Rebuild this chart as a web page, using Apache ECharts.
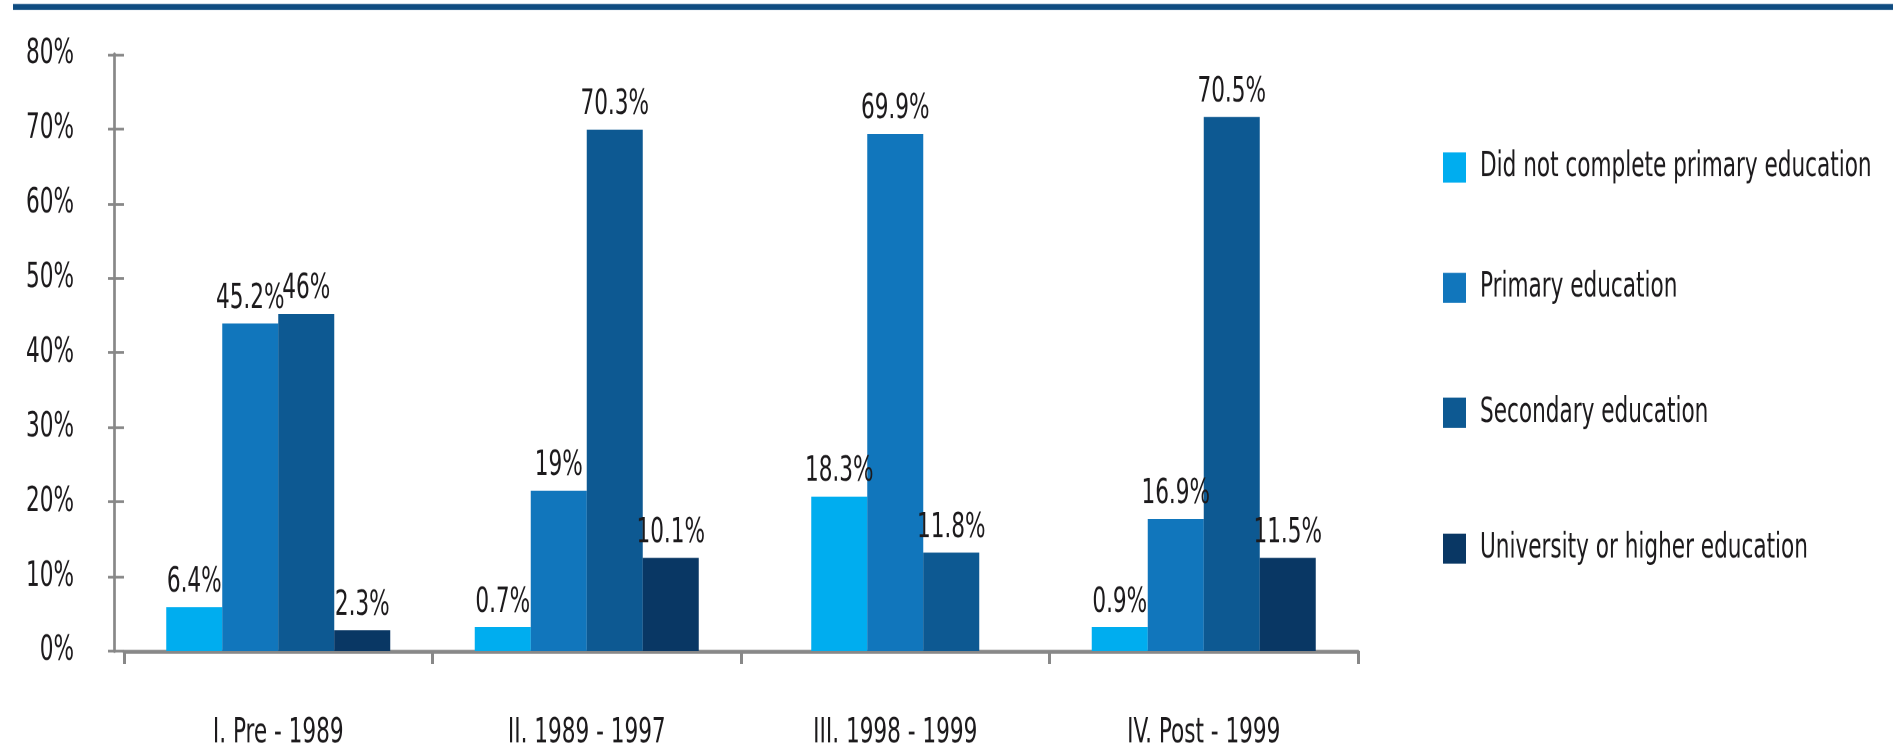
<!DOCTYPE html>
<html>
<head>
<meta charset="utf-8">
<script src="https://cdn.jsdelivr.net/npm/echarts@6/dist/echarts.min.js"></script>
<style>
  html, body { margin: 0; padding: 0; background: #ffffff; overflow: hidden; width: 1893px; height: 750px; }
  #chart { width: 1893px; height: 518px; transform: scaleY(1.45); transform-origin: 0 0; }
</style>
</head>
<body>
<div id="chart"></div>
<script>
// ---- data ----
const categories = ['I. Pre - 1989', 'II. 1989 - 1997', 'III. 1998 - 1999', 'IV. Post - 1999'];
const seriesNames = ['Did not complete primary education', 'Primary education', 'Secondary education', 'University or higher education'];
// bar heights as drawn in the picture (%)
const didNotComplete = [5.9, 3.2, 20.7, 3.2];
const primaryEdu = [43.9, 21.5, 69.3, 17.7];
const secondaryEdu = [45.2, 69.9, 13.2, 71.6];
const university = [2.8, 12.5, null, 12.5];
// value labels printed above the bars
const didNotCompleteLabels = ['6.4%', '0.7%', '18.3%', '0.9%'];
const primaryEduLabels = ['45.2%', '19%', '69.9%', '16.9%'];
const secondaryEduLabels = ['46%', '70.3%', '11.8%', '70.5%'];
const universityLabels = ['2.3%', '10.1%', '', '11.5%'];
const yTicks = [0, 10, 20, 30, 40, 50, 60, 70, 80];

// ---- styling ----
const FONT = "'DejaVu Sans Condensed', 'Liberation Sans Narrow', 'Arial Narrow', sans-serif";
const FS = 24;
const TEXT = '#1c1a1c';
const AXIS = '#888888';
const colors = ['#00adef', '#1176bc', '#0d5992', '#093764'];

const values = [didNotComplete, primaryEdu, secondaryEdu, university];
const labels = [didNotCompleteLabels, primaryEduLabels, secondaryEduLabels, universityLabels];
const shortGroup = categories.map((c, i) => values.some(v => v[i] == null));

function makeSeries(s, axisIdx) {
  return {
    type: 'bar',
    name: seriesNames[s],
    xAxisIndex: axisIdx,
    barWidth: 56,
    barGap: 0,
    data: values[s].map((v, i) => (axisIdx === 1) === shortGroup[i] ? v : null),
    itemStyle: { color: colors[s] },
    label: {
      show: true, position: 'top', distance: 5,
      fontFamily: FONT, fontSize: FS, color: TEXT,
      formatter: p => labels[s][p.dataIndex]
    }
  };
}

const series = [];
for (let s = 0; s < 4; s++) series.push(makeSeries(s, 0));
for (let s = 0; s < 4; s++) {
  const hasShort = values[s].some((v, i) => shortGroup[i] && v != null);
  if (hasShort) series.push(makeSeries(s, 1));
}

const legendTops = [103.5, 186.5, 272.6, 366.4];
const legends = seriesNames.map((n, i) => ({
  data: [n], left: 1443, top: legendTops[i], padding: 0, orient: 'vertical',
  icon: 'rect', itemWidth: 23, itemHeight: 20.7,
  selectedMode: false,
  textStyle: { fontFamily: FONT, fontSize: FS, color: TEXT, lineHeight: 24, padding: [0, 0, 0, 9] }
}));

const chart = echarts.init(document.getElementById('chart'), null, { renderer: 'canvas', devicePixelRatio: 2 });
chart.setOption({
  animation: false,
  backgroundColor: '#ffffff',
  graphic: [{ type: 'rect', left: 13, top: 2.8, shape: { width: 1880, height: 4.1 }, style: { fill: '#0f4c81' } }],
  legend: legends,
  grid: { left: 124, top: 37.45, width: 1234, height: 413.1, containLabel: false },
  xAxis: [
    {
      type: 'category', data: categories,
      axisLine: { show: true, lineStyle: { color: AXIS, width: 2.75 } },
      axisTick: { show: true, length: 9, lineStyle: { color: AXIS, width: 3 } },
      axisLabel: { margin: 45, fontFamily: FONT, fontSize: FS, color: TEXT },
      splitLine: { show: false }
    },
    { type: 'category', data: categories, show: false }
  ],
  yAxis: [
    {
      type: 'value', offset: 10, min: yTicks[0], max: yTicks[yTicks.length - 1], interval: yTicks[1] - yTicks[0],
      axisLine: { show: true, lineStyle: { color: AXIS, width: 2.7 } },
      axisTick: { show: true, inside: false, length: 6, lineStyle: { color: AXIS, width: 1.86 } },
      axisLabel: { margin: 40, formatter: '{value}%', fontFamily: FONT, fontSize: FS, color: TEXT },
      splitLine: { show: false }
    },
    {
      type: 'value', position: 'left', offset: 10, min: yTicks[0], max: yTicks[yTicks.length - 1], interval: yTicks[1] - yTicks[0],
      axisLine: { show: false },
      axisTick: { show: true, inside: true, length: 10, lineStyle: { color: AXIS, width: 1.86 } },
      axisLabel: { show: false },
      splitLine: { show: false }
    }
  ],
  series: series
});
</script>
</body>
</html>
